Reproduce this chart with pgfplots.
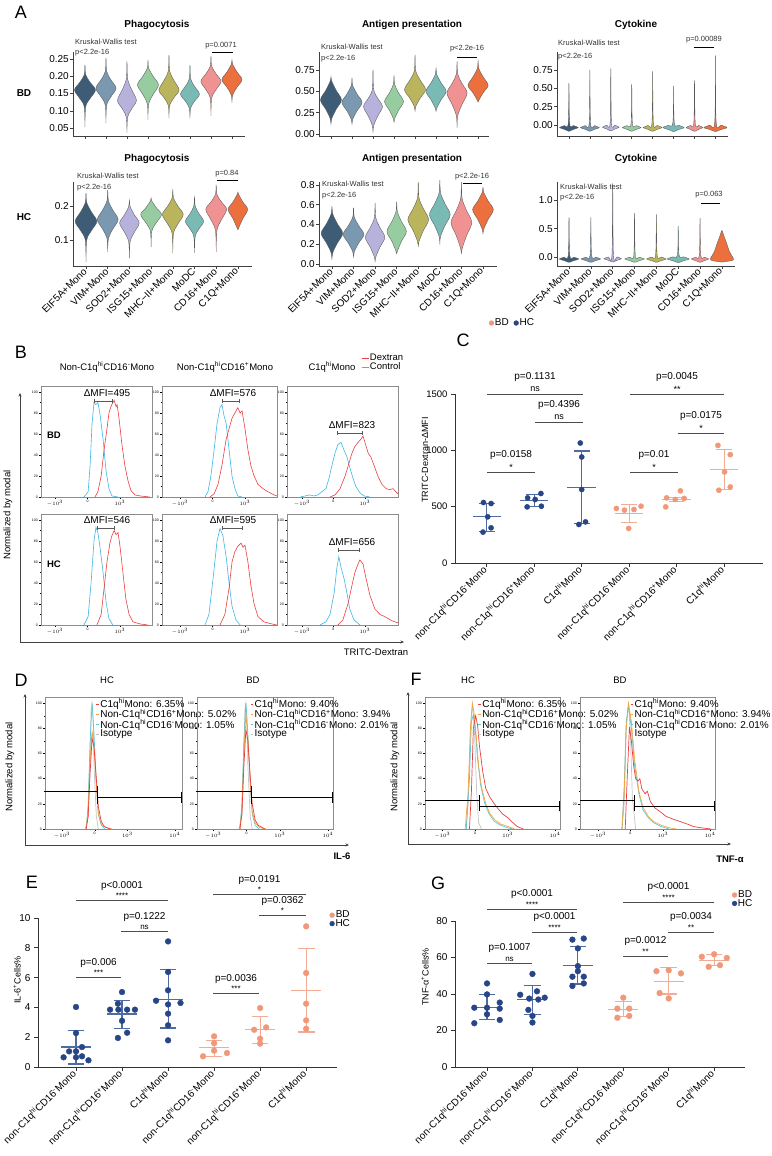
\documentclass[border=0pt]{standalone}
\usepackage{fontspec}
\setmainfont{Liberation Sans}
\usepackage{pgfplots}
\pgfplotsset{compat=1.18}
\usetikzlibrary{arrows.meta}

\newcommand\fs[1]{\fontsize{#1}{#1}\selectfont}

% violin colours
\definecolor{v1}{RGB}{62,92,118}
\definecolor{v2}{RGB}{122,152,176}
\definecolor{v3}{RGB}{182,178,220}
\definecolor{v4}{RGB}{150,204,160}
\definecolor{v5}{RGB}{186,180,92}
\definecolor{v6}{RGB}{122,186,180}
\definecolor{v7}{RGB}{241,146,146}
\definecolor{v8}{RGB}{236,112,62}
% dot plots
\definecolor{hc}{RGB}{40,70,135}
\definecolor{hcl}{RGB}{78,108,162}
\definecolor{bd}{RGB}{240,152,122}
\definecolor{bdl}{RGB}{243,172,148}
% flow
\definecolor{fred}{RGB}{235,62,62}
\definecolor{fblue}{RGB}{62,182,232}
\definecolor{forange}{RGB}{246,164,62}
\definecolor{fcyan}{RGB}{92,200,212}
\definecolor{fgray}{RGB}{196,196,196}

% violin: x, colour, low end, widest value, high end, half width, spread below, spread above
\newcommand\vio[8]{%
  \pgfmathsetmacro\vxa{#1-0.035}\pgfmathsetmacro\vxb{#1-0.5*#6}\pgfmathsetmacro\vxc{#1-#6}%
  \pgfmathsetmacro\vxd{#1+0.035}\pgfmathsetmacro\vxe{#1+0.5*#6}\pgfmathsetmacro\vxf{#1+#6}%
  \pgfmathsetmacro\vya{#4-2.2*#7}\pgfmathsetmacro\vyb{#4-1.1*#7}%
  \pgfmathsetmacro\vyc{#4+1.1*#8}\pgfmathsetmacro\vyd{#4+2.2*#8}%
  \addplot[fill=#2, draw=black!65, line width=0.35pt, smooth, tension=0.55, forget plot]
    coordinates {(#1,#3)(\vxa,\vya)(\vxb,\vyb)(\vxc,#4)(\vxb,\vyc)(\vxa,\vyd)(#1,#5)
                 (\vxd,\vyd)(\vxe,\vyc)(\vxf,#4)(\vxe,\vyb)(\vxd,\vya)(#1,#3)};%
}
% mean and SD: x, mean, low, high, colour, half width of mean line
\newcommand\msd[6]{%
  \pgfmathsetmacro\ma{#1-#6}\pgfmathsetmacro\mb{#1+#6}%
  \pgfmathsetmacro\ca{#1-0.55*#6}\pgfmathsetmacro\cb{#1+0.55*#6}%
  \addplot[#5, line width=1.1pt, forget plot] coordinates {(\ma,#2)(\mb,#2)};
  \addplot[#5, line width=1.1pt, forget plot] coordinates {(#1,#3)(#1,#4)};
  \addplot[#5, line width=1.1pt, forget plot] coordinates {(\ca,#3)(\cb,#3)};
  \addplot[#5, line width=1.1pt, forget plot] coordinates {(\ca,#4)(\cb,#4)};
}

\pgfplotsset{
  base/.style={scale only axis, clip=false, /pgf/number format/assume math mode=true},
  vio/.style={base, axis x line*=bottom, axis y line*=left,
    axis line style={-, black!75, line width=0.5pt},
    tick style={black!75, line width=0.5pt}, tick align=outside,
    major tick length=3pt, xtick={1,...,8}, xticklabels={},
    yticklabel style={font=\fs{10}, inner sep=1pt}},
  vlab/.style={xticklabels={EIF5A+Mono,VIM+Mono,SOD2+Mono,ISG15+Mono,MHC−II+Mono,MoDC,CD16+Mono,C1Q+Mono},
    xticklabel style={rotate=45, anchor=east, font=\fs{10}, inner sep=1pt}},
  flow/.style={base, axis line style={black!45, line width=0.4pt}, tick pos=left,
    tick align=outside, tick style={black, line width=0.3pt},
    major tick length=2pt, minor tick length=1.2pt, ymin=0,
    ytick={0,20,...,100}, minor ytick={10,30,...,90},
    yticklabel style={font=\fs{3.5}, inner sep=1pt},
    xticklabel style={font=\fs{3.5}, inner sep=1pt}},
  flowB/.style={flow, xtick={1,2,3}, xticklabels={$-10^3$,0,$10^3$},
    minor xtick={1.4,1.65,1.8,1.88,1.93,1.97,2.03,2.07,2.12,2.2,2.35,2.6,3.44,3.69,3.87}},
  flowD/.style={flow, xtick={1,2,3,4.45}, xticklabels={$-10^3$,0,$10^3$,$10^4$},
    minor xtick={1.4,1.65,1.8,1.88,1.93,1.97,2.03,2.07,2.12,2.2,2.35,2.6,3.44,3.69,3.87,4.01,4.13,4.23,4.31,4.38},
    legend style={draw=none, fill=none, font=\fs{10}, inner sep=0pt, row sep=-1.8pt,
      nodes={inner sep=1pt}},
    legend cell align=left,
    legend image code/.code={\draw[#1, line width=0.9pt] (0pt,0pt)--(2.5pt,0pt);}},
  dot/.style={base, axis x line*=bottom, axis y line*=left,
    axis line style={-, black!80, line width=0.8pt},
    tick style={black!80, line width=0.8pt}, tick align=outside, major tick length=4pt,
    xtick={1,...,6},
    xticklabels={non-C1q\textsuperscript{hi}CD16\textsuperscript{-}Mono,
      non-C1q\textsuperscript{hi}CD16\textsuperscript{+}Mono, C1q\textsuperscript{hi}Mono,
      non-C1q\textsuperscript{hi}CD16\textsuperscript{-}Mono,
      non-C1q\textsuperscript{hi}CD16\textsuperscript{+}Mono, C1q\textsuperscript{hi}Mono},
    xticklabel style={rotate=45, anchor=east, font=\fs{10}, inner sep=2pt},
    yticklabel style={font=\fs{10}},
    legend style={draw=none, fill=none, font=\fs{10}, inner sep=0pt, row sep=-2pt,
      nodes={inner sep=1pt}},
    legend image code/.code={\draw[mark repeat=1,#1] plot coordinates {(2pt,0pt)};}},
}

\begin{document}
\begin{tikzpicture}
\path[use as bounding box] (0pt,0pt) rectangle (771pt,-1156pt);

% ================= A, BD row
\begin{axis}[vio, at={(73pt,-136pt)}, anchor=south west, width=172pt, height=84pt,
  xmin=0.43, xmax=8.62, ymin=0.027, ymax=0.27,
  ytick={0.05,0.1,0.15,0.2,0.25}, yticklabels={0.05,0.10,0.15,0.20,0.25}]
\vio{1}{v1}{0.053}{0.160}{0.233}{0.50}{0.022}{0.020}
\vio{2}{v2}{0.064}{0.165}{0.253}{0.48}{0.022}{0.022}
\vio{3}{v3}{0.036}{0.130}{0.241}{0.45}{0.022}{0.028}
\vio{4}{v4}{0.073}{0.175}{0.245}{0.50}{0.025}{0.022}
\vio{5}{v5}{0.078}{0.160}{0.262}{0.48}{0.020}{0.025}
\vio{6}{v6}{0.078}{0.148}{0.233}{0.45}{0.018}{0.020}
\vio{7}{v7}{0.085}{0.185}{0.258}{0.48}{0.022}{0.020}
\vio{8}{v8}{0.122}{0.190}{0.247}{0.48}{0.020}{0.020}
\end{axis}

\begin{axis}[vio, at={(319pt,-136pt)}, anchor=south west, width=170pt, height=84pt,
  xmin=0.43, xmax=8.52, ymin=-0.023, ymax=0.96,
  ytick={0,0.25,0.5,0.75}, yticklabels={0.00,0.25,0.50,0.75}]
\vio{1}{v1}{0.105}{0.40}{0.67}{0.50}{0.10}{0.10}
\vio{2}{v2}{0.105}{0.37}{0.65}{0.48}{0.09}{0.09}
\vio{3}{v3}{0.010}{0.32}{0.75}{0.45}{0.10}{0.09}
\vio{4}{v4}{0.130}{0.38}{0.68}{0.45}{0.09}{0.09}
\vio{5}{v5}{0.260}{0.52}{0.93}{0.50}{0.09}{0.10}
\vio{6}{v6}{0.260}{0.50}{0.77}{0.48}{0.09}{0.09}
\vio{7}{v7}{0.070}{0.48}{0.85}{0.48}{0.12}{0.10}
\vio{8}{v8}{0.370}{0.57}{0.86}{0.48}{0.08}{0.09}
\end{axis}

\begin{axis}[vio, at={(557pt,-136pt)}, anchor=south west, width=171pt, height=84pt,
  xmin=0.43, xmax=8.6, ymin=-0.15, ymax=0.995,
  ytick={0,0.25,0.5,0.75}, yticklabels={0.00,0.25,0.50,0.75}]
\vio{1}{v1}{-0.085}{-0.035}{0.57}{0.45}{0.022}{0.024}
\vio{2}{v2}{-0.085}{-0.035}{0.75}{0.45}{0.022}{0.024}
\vio{3}{v3}{-0.080}{-0.030}{0.77}{0.40}{0.022}{0.024}
\vio{4}{v4}{-0.085}{-0.035}{0.56}{0.45}{0.022}{0.024}
\vio{5}{v5}{-0.085}{-0.035}{0.73}{0.45}{0.022}{0.026}
\vio{6}{v6}{-0.090}{-0.035}{0.53}{0.50}{0.024}{0.028}
\vio{7}{v7}{-0.085}{-0.035}{0.61}{0.40}{0.022}{0.026}
\vio{8}{v8}{-0.090}{-0.035}{0.95}{0.55}{0.024}{0.030}
\end{axis}

% ================= A, HC row
\begin{axis}[vio, vlab, at={(73pt,-266pt)}, anchor=south west, width=179pt, height=84pt,
  xmin=0.4, xmax=8.65, ymin=0.0235, ymax=0.2706,
  ytick={0.1,0.2}, yticklabels={0.1,0.2}]
\vio{1}{v1}{0.035}{0.155}{0.238}{0.50}{0.025}{0.025}
\vio{2}{v2}{0.065}{0.160}{0.247}{0.48}{0.025}{0.025}
\vio{3}{v3}{0.047}{0.150}{0.218}{0.45}{0.025}{0.022}
\vio{4}{v4}{0.080}{0.175}{0.224}{0.48}{0.022}{0.018}
\vio{5}{v5}{0.062}{0.175}{0.247}{0.48}{0.025}{0.022}
\vio{6}{v6}{0.062}{0.155}{0.226}{0.42}{0.020}{0.020}
\vio{7}{v7}{0.065}{0.190}{0.262}{0.48}{0.028}{0.020}
\vio{8}{v8}{0.130}{0.190}{0.241}{0.45}{0.025}{0.020}
\end{axis}

\begin{axis}[vio, vlab, at={(319pt,-266pt)}, anchor=south west, width=178pt, height=84pt,
  xmin=0.4, xmax=8.65, ymin=-0.02, ymax=0.83,
  ytick={0,0.2,0.4,0.6,0.8}, yticklabels={0.0,0.2,0.4,0.6,0.8}]
\vio{1}{v1}{0.04}{0.31}{0.58}{0.50}{0.09}{0.09}
\vio{2}{v2}{0.06}{0.30}{0.57}{0.48}{0.08}{0.08}
\vio{3}{v3}{0.02}{0.27}{0.62}{0.45}{0.09}{0.09}
\vio{4}{v4}{0.10}{0.33}{0.63}{0.45}{0.09}{0.09}
\vio{5}{v5}{0.17}{0.45}{0.83}{0.48}{0.10}{0.10}
\vio{6}{v6}{0.20}{0.50}{0.85}{0.48}{0.10}{0.10}
\vio{7}{v7}{0.10}{0.42}{0.83}{0.48}{0.12}{0.11}
\vio{8}{v8}{0.30}{0.55}{0.78}{0.48}{0.09}{0.08}
\end{axis}

\begin{axis}[vio, vlab, at={(557pt,-266pt)}, anchor=south west, width=178pt, height=84pt,
  xmin=0.45, xmax=8.6, ymin=-0.159, ymax=1.323,
  ytick={0,0.5,1}, yticklabels={0.0,0.5,1.0}]
\vio{1}{v1}{-0.090}{-0.035}{0.70}{0.45}{0.026}{0.028}
\vio{2}{v2}{-0.090}{-0.035}{0.70}{0.45}{0.026}{0.028}
\vio{3}{v3}{-0.085}{-0.030}{1.30}{0.40}{0.026}{0.028}
\vio{4}{v4}{-0.090}{-0.035}{0.78}{0.45}{0.026}{0.028}
\vio{5}{v5}{-0.090}{-0.035}{0.75}{0.45}{0.026}{0.030}
\vio{6}{v6}{-0.095}{-0.035}{0.55}{0.50}{0.028}{0.034}
\vio{7}{v7}{-0.090}{-0.035}{0.69}{0.40}{0.026}{0.028}
\addplot[fill=v8, draw=black!65, line width=0.35pt, smooth, tension=0.5, forget plot]
  coordinates {(8,-0.09)(7.52,-0.06)(7.48,-0.02)(7.56,0.03)(7.66,0.10)(7.73,0.18)
   (7.80,0.26)(7.88,0.34)(7.95,0.42)(8,0.47)(8.05,0.42)(8.12,0.34)(8.20,0.26)(8.27,0.18)
   (8.34,0.10)(8.44,0.03)(8.52,-0.02)(8.48,-0.06)(8,-0.09)};
\end{axis}

% ================= B
\begin{axis}[flowB, at={(41pt,-497pt)}, anchor=south west, width=111pt, height=111pt,
  xmin=0.569, xmax=3.985, ymax=105.7]
\addplot[fblue, line width=0.6pt] coordinates {(1.89,0)(2.02,5)(2.08,30)(2.14,70)(2.2,90)(2.26,88)(2.32,90)(2.38,80)(2.48,55)(2.57,25)(2.66,8)(2.75,1)(2.94,0)};
\addplot[fred, line width=0.6pt] coordinates {(2.23,0)(2.32,5)(2.42,20)(2.51,45)(2.6,65)(2.66,80)(2.72,86)(2.78,90)(2.82,92)(2.88,86)(2.91,88)(2.97,75)(3.06,50)(3.15,30)(3.25,15)(3.34,6)(3.46,2)(3.62,1)(3.92,0)};
\end{axis}
\begin{axis}[flowB, at={(162pt,-497pt)}, anchor=south west, width=115pt, height=111pt,
  xmin=0.446, xmax=3.985, ymax=105.7]
\addplot[fblue, line width=0.6pt] coordinates {(1.77,0)(1.86,5)(1.95,20)(2.05,45)(2.14,70)(2.23,85)(2.29,88)(2.35,78)(2.42,70)(2.51,45)(2.6,20)(2.69,8)(2.78,1)(2.9,0)};
\addplot[fred, line width=0.6pt] coordinates {(1.92,0)(2.05,3)(2.17,12)(2.29,30)(2.42,55)(2.51,65)(2.6,75)(2.69,80)(2.78,85)(2.85,80)(2.91,82)(3.0,65)(3.09,45)(3.18,30)(3.28,20)(3.4,12)(3.55,8)(3.71,5)(3.89,2)(3.98,1)};
\end{axis}
\begin{axis}[flowB, at={(287pt,-497pt)}, anchor=south west, width=111pt, height=111pt,
  xmin=0.524, xmax=4.05, ymax=105.7,
  legend style={draw=none, fill=none, font=\fs{9.5}, at={(0.667,1.30)}, anchor=north west,
    inner sep=0pt, row sep=-1pt, nodes={inner sep=1pt}},
  legend cell align=left,
  legend image code/.code={\draw[#1, line width=0.7pt] (0pt,0pt)--(7pt,0pt);}]
\addlegendimage{fred}\addlegendentry{Dextran}
\addlegendimage{fblue}\addlegendentry{Control}
\addplot[fblue, line width=0.6pt, forget plot] coordinates {(0.94,0)(1.1,1)(1.25,2)(1.38,1)(1.51,2)(1.63,5)(1.76,8)(1.86,18)(1.95,30)(2.05,42)(2.14,50)(2.24,52)(2.33,45)(2.43,38)(2.52,28)(2.62,18)(2.71,10)(2.84,4)(2.97,1)(3.16,0)};
\addplot[fred, line width=0.6pt, forget plot] coordinates {(1.89,0)(2.05,2)(2.21,8)(2.37,20)(2.49,32)(2.59,42)(2.68,48)(2.78,52)(2.87,55)(2.94,58)(3.0,52)(3.1,42)(3.19,38)(3.29,30)(3.41,20)(3.54,12)(3.67,8)(3.79,7)(3.89,8)(3.98,5)(4.05,3)};
\end{axis}

\begin{axis}[flowB, at={(41pt,-625pt)}, anchor=south west, width=111pt, height=111pt,
  xmin=0.569, xmax=3.985, ymax=105.7]
\addplot[fblue, line width=0.6pt] coordinates {(1.89,0)(2.02,8)(2.11,40)(2.2,80)(2.26,93)(2.32,88)(2.38,75)(2.48,50)(2.57,22)(2.66,6)(2.78,0)};
\addplot[fred, line width=0.6pt] coordinates {(2.29,0)(2.42,10)(2.51,35)(2.6,60)(2.69,78)(2.75,85)(2.82,90)(2.88,86)(2.94,88)(3.0,75)(3.09,50)(3.18,25)(3.28,10)(3.4,3)(3.62,1)(3.86,0)};
\end{axis}
\begin{axis}[flowB, at={(162pt,-625pt)}, anchor=south west, width=115pt, height=111pt,
  xmin=0.446, xmax=3.985, ymax=105.7]
\addplot[fblue, line width=0.6pt] coordinates {(1.77,0)(1.89,10)(2.02,45)(2.14,80)(2.23,92)(2.32,85)(2.42,65)(2.51,40)(2.6,18)(2.72,5)(2.85,0)};
\addplot[fred, line width=0.6pt] coordinates {(2.23,0)(2.38,10)(2.51,35)(2.6,60)(2.69,70)(2.78,75)(2.88,78)(2.94,74)(3.0,76)(3.09,60)(3.18,38)(3.28,20)(3.4,8)(3.58,3)(3.83,1)(3.98,0)};
\end{axis}
\begin{axis}[flowB, at={(287pt,-625pt)}, anchor=south west, width=111pt, height=111pt,
  xmin=0.524, xmax=4.05, ymax=105.7]
\addplot[fblue, line width=0.6pt] coordinates {(1.57,0)(1.76,3)(1.89,10)(2.02,30)(2.11,55)(2.17,65)(2.24,55)(2.33,45)(2.43,30)(2.52,15)(2.65,5)(2.84,0)};
\addplot[fred, line width=0.6pt] coordinates {(2.14,0)(2.3,5)(2.46,20)(2.59,38)(2.68,50)(2.78,58)(2.84,62)(2.94,58)(3.03,45)(3.16,28)(3.32,15)(3.48,10)(3.63,8)(3.86,4)(4.05,2)};
\end{axis}

% ================= C
\begin{axis}[dot, at={(455pt,-563pt)}, anchor=south west, width=308pt, height=169pt,
  xmin=0.33, xmax=6.82, ymin=0, ymax=1500,
  ytick={0,500,1000,1500}, yticklabels={0,500,1000,1500},
  yticklabel style={font=\fs{9.5}},
  legend columns=2, legend style={at={(0.11,1.42)}, anchor=west,
    /tikz/every even column/.append style={column sep=4pt}}]
\addlegendimage{only marks, mark=*, mark size=2.4pt, bd}\addlegendentry{BD}
\addlegendimage{only marks, mark=*, mark size=2.4pt, hc}\addlegendentry{HC}
\msd{1}{410}{283}{531}{hcl}{0.3}
\msd{2}{557}{504}{611}{hcl}{0.3}
\msd{3}{673}{351}{994}{hcl}{0.3}
\msd{4}{440}{357}{522}{bdl}{0.3}
\msd{5}{564}{545}{585}{bdl}{0.3}
\msd{6}{829}{652}{1006}{bdl}{0.3}
\addplot[only marks, mark=*, mark size=2.6pt, hc, forget plot] coordinates {
  (0.93,537)(1.09,528)(1.02,410)(1.09,312)(0.92,274)
  (1.86,578)(2.02,564)(2.14,617)(1.85,498)(2.15,504)
  (2.97,1065)(3.0,941)(3.0,652)(2.94,342)(3.08,365)};
\addplot[only marks, mark=*, mark size=2.6pt, bd, forget plot] coordinates {
  (3.73,484)(3.9,469)(4.1,475)(4.25,504)(3.99,307)
  (4.77,498)(4.97,564)(5.08,640)(5.16,573)(4.79,578)
  (5.87,1044)(6.13,962)(6.01,808)(6.13,675)(5.89,646)};
\end{axis}

% ================= D
\begin{axis}[flowD, at={(45pt,-829pt)}, anchor=south west, width=137pt, height=132pt,
  xmin=0.48, xmax=4.67, ymax=104.8,
  legend style={at={(0.37,0.995)}, anchor=north west}]
\addlegendimage{fred}\addlegendentry{C1q\textsuperscript{hi}Mono: 6.35\%}
\addlegendimage{forange}\addlegendentry{Non-C1q\textsuperscript{hi}CD16\textsuperscript{+}Mono: 5.02\%}
\addlegendimage{fcyan}\addlegendentry{Non-C1q\textsuperscript{hi}CD16\textsuperscript{-}Mono: 1.05\%}
\addlegendimage{fgray}\addlegendentry{Isotype}
\addplot[fgray, line width=0.7pt, forget plot] coordinates {(1.71,0)(1.8,10)(1.86,60)(1.89,95)(1.92,100)(1.95,90)(1.98,50)(2.05,10)(2.11,0)};
\addplot[fcyan, line width=0.7pt, forget plot] coordinates {(1.74,0)(1.8,20)(1.86,70)(1.92,100)(1.98,75)(2.05,35)(2.11,12)(2.2,3)(2.32,0)};
\addplot[forange, line width=0.7pt, forget plot] coordinates {(1.74,0)(1.8,15)(1.86,55)(1.92,78)(1.98,65)(2.05,35)(2.11,12)(2.2,4)(2.35,1)(2.55,0)};
\addplot[fred, line width=0.7pt, forget plot] coordinates {(1.74,0)(1.8,10)(1.86,45)(1.92,72)(1.98,65)(2.05,40)(2.11,18)(2.2,6)(2.29,2)(2.48,0)};
\addplot[black, line width=0.8pt, forget plot] coordinates {(0.48,30)(2.08,30)};
\addplot[black, line width=0.8pt, forget plot] coordinates {(2.08,20)(2.08,34)};
\addplot[black, line width=0.8pt, forget plot] coordinates {(2.08,25)(4.64,25)};
\addplot[black, line width=0.8pt, forget plot] coordinates {(4.64,21)(4.64,29)};
\end{axis}
\begin{axis}[flowD, at={(197pt,-829pt)}, anchor=south west, width=136pt, height=132pt,
  xmin=0.51, xmax=4.6, ymax=104.8,
  legend style={at={(0.39,0.995)}, anchor=north west}]
\addlegendimage{fred}\addlegendentry{C1q\textsuperscript{hi}Mono: 9.40\%}
\addlegendimage{forange}\addlegendentry{Non-C1q\textsuperscript{hi}CD16\textsuperscript{+}Mono: 3.94\%}
\addlegendimage{fcyan}\addlegendentry{Non-C1q\textsuperscript{hi}CD16\textsuperscript{-}Mono: 2.01\%}
\addlegendimage{fgray}\addlegendentry{Isotype}
\addplot[fgray, line width=0.7pt, forget plot] coordinates {(1.77,0)(1.86,10)(1.92,60)(1.95,95)(1.98,100)(2.01,90)(2.04,50)(2.11,10)(2.17,0)};
\addplot[fcyan, line width=0.7pt, forget plot] coordinates {(1.8,0)(1.86,20)(1.92,70)(1.98,100)(2.04,75)(2.11,35)(2.17,12)(2.26,3)(2.38,0)};
\addplot[forange, line width=0.7pt, forget plot] coordinates {(1.8,0)(1.86,15)(1.92,60)(1.98,92)(2.04,72)(2.11,38)(2.17,14)(2.26,5)(2.41,1)(2.6,0)};
\addplot[fred, line width=0.7pt, forget plot] coordinates {(1.8,0)(1.86,12)(1.92,50)(1.98,79)(2.04,70)(2.11,42)(2.17,20)(2.26,7)(2.35,3)(2.55,0)};
\addplot[black, line width=0.8pt, forget plot] coordinates {(0.51,30)(2.14,30)};
\addplot[black, line width=0.8pt, forget plot] coordinates {(2.14,20)(2.14,34)};
\addplot[black, line width=0.8pt, forget plot] coordinates {(2.14,25)(4.58,25)};
\addplot[black, line width=0.8pt, forget plot] coordinates {(4.58,21)(4.58,29)};
\end{axis}

% ================= F
\begin{axis}[flowD, at={(425pt,-829pt)}, anchor=south west, width=135pt, height=132pt,
  xmin=0.47, xmax=4.6, ymax=104.8,
  legend style={at={(0.39,0.995)}, anchor=north west}]
\addlegendimage{fred}\addlegendentry{C1q\textsuperscript{hi}Mono: 6.35\%}
\addlegendimage{forange}\addlegendentry{Non-C1q\textsuperscript{hi}CD16\textsuperscript{+}Mono: 5.02\%}
\addlegendimage{fcyan}\addlegendentry{Non-C1q\textsuperscript{hi}CD16\textsuperscript{-}Mono: 1.05\%}
\addlegendimage{fgray}\addlegendentry{Isotype}
\addplot[fgray, line width=0.7pt, forget plot] coordinates {(1.73,0)(1.79,20)(1.86,80)(1.92,100)(1.98,80)(2.05,30)(2.11,5)(2.2,0)};
\addplot[fcyan, line width=0.7pt, forget plot] coordinates {(1.73,0)(1.83,40)(1.89,85)(1.95,91)(2.02,75)(2.08,55)(2.17,35)(2.3,20)(2.43,12)(2.59,6)(2.78,3)(3.0,1)(3.16,0)};
\addplot[forange, line width=0.7pt, forget plot] coordinates {(1.7,0)(1.79,30)(1.86,80)(1.92,100)(1.98,90)(2.05,70)(2.11,50)(2.2,33)(2.33,20)(2.46,12)(2.62,7)(2.78,4)(3.0,2)(3.22,0)};
\addplot[fred, line width=0.7pt, forget plot] coordinates {(1.83,0)(1.89,30)(1.95,80)(2.02,90)(2.08,82)(2.14,65)(2.24,45)(2.33,32)(2.46,25)(2.59,20)(2.71,16)(2.84,12)(3.0,9)(3.16,5)(3.29,2)(3.48,0)};
\addplot[black, line width=0.8pt, forget plot] coordinates {(0.47,23)(2.14,23)};
\addplot[black, line width=0.8pt, forget plot] coordinates {(2.14,14)(2.14,27)};
\addplot[black, line width=0.8pt, forget plot] coordinates {(2.14,18)(4.58,18)};
\addplot[black, line width=0.8pt, forget plot] coordinates {(4.58,14)(4.58,22)};
\end{axis}
\begin{axis}[flowD, at={(580pt,-829pt)}, anchor=south west, width=135pt, height=132pt,
  xmin=0.45, xmax=4.6, ymax=104.8,
  legend style={at={(0.37,0.995)}, anchor=north west}]
\addlegendimage{fred}\addlegendentry{C1q\textsuperscript{hi}Mono: 9.40\%}
\addlegendimage{forange}\addlegendentry{Non-C1q\textsuperscript{hi}CD16\textsuperscript{+}Mono: 3.94\%}
\addlegendimage{fcyan}\addlegendentry{Non-C1q\textsuperscript{hi}CD16\textsuperscript{-}Mono: 2.01\%}
\addlegendimage{fgray}\addlegendentry{Isotype}
\addplot[fgray, line width=0.7pt, forget plot] coordinates {(1.74,0)(1.81,20)(1.87,80)(1.94,100)(2.0,75)(2.06,25)(2.16,0)};
\addplot[fcyan, line width=0.7pt, forget plot] coordinates {(1.74,0)(1.81,35)(1.87,85)(1.94,98)(2.03,80)(2.13,50)(2.26,28)(2.39,15)(2.55,9)(2.71,5)(2.94,2)(3.19,0)};
\addplot[forange, line width=0.7pt, forget plot] coordinates {(1.74,0)(1.81,30)(1.87,80)(1.94,100)(2.03,85)(2.13,55)(2.26,30)(2.39,17)(2.55,10)(2.71,6)(2.94,3)(3.19,1)(3.42,0)};
\addplot[fred, line width=0.7pt, forget plot] coordinates {(1.84,0)(1.9,40)(1.97,81)(2.03,70)(2.1,50)(2.16,40)(2.23,38)(2.29,40)(2.35,32)(2.45,28)(2.52,30)(2.61,22)(2.74,17)(2.9,14)(3.1,10)(3.29,8)(3.52,6)(3.74,4)(3.94,2)(4.16,1)(4.48,0)};
\addplot[black, line width=0.8pt, forget plot] coordinates {(0.45,23)(2.13,23)};
\addplot[black, line width=0.8pt, forget plot] coordinates {(2.13,14)(2.13,27)};
\addplot[black, line width=0.8pt, forget plot] coordinates {(2.13,18)(4.58,18)};
\addplot[black, line width=0.8pt, forget plot] coordinates {(4.58,14)(4.58,22)};
\end{axis}

% ================= E
\begin{axis}[dot, at={(38pt,-1067pt)}, anchor=south west, width=299pt, height=149pt,
  xmin=0.174, xmax=6.67, ymin=0, ymax=10,
  ytick={0,2,4,6,8,10}, yticklabels={0,2,4,6,8,10},
  legend style={at={(0.975,1.055)}, anchor=north west}]
\addlegendimage{only marks, mark=*, mark size=2.4pt, bd}\addlegendentry{BD}
\addlegendimage{only marks, mark=*, mark size=2.4pt, hc}\addlegendentry{HC}
\msd{1}{1.34}{0.2}{2.46}{hcl}{0.33}
\msd{2}{3.56}{2.57}{4.47}{hcl}{0.33}
\msd{3}{4.56}{2.62}{6.53}{hcl}{0.33}
\msd{4}{1.28}{0.72}{1.79}{bdl}{0.33}
\msd{5}{2.5}{1.57}{3.4}{bdl}{0.33}
\msd{6}{5.12}{2.35}{7.94}{bdl}{0.33}
\addplot[only marks, mark=*, mark size=2.9pt, hc, forget plot] coordinates {
  (1.0,4.03)(1.0,2.28)(0.85,1.05)(1.0,1.05)(1.13,1.34)(0.73,0.65)(1.0,0.65)(1.13,0.72)(1.27,0.45)
  (2.0,5.03)(1.74,3.85)(1.91,4.25)(1.92,3.85)(2.11,3.85)(2.28,3.85)(2.0,3.1)(2.11,2.3)(1.91,1.95)
  (3.0,8.43)(3.0,6.38)(3.0,5.15)(2.74,4.45)(3.27,4.3)(3.0,4.2)(3.0,3.58)(3.0,2.8)(3.0,1.79)};
\addplot[only marks, mark=*, mark size=2.9pt, bd, forget plot] coordinates {
  (3.76,0.72)(4.0,2.06)(4.0,1.6)(4.0,1.1)(4.28,0.94)
  (5.0,3.96)(4.87,2.5)(5.13,2.66)(5.0,1.9)(5.0,1.57)
  (6.0,9.44)(6.0,6.31)(6.0,4.25)(6.0,3.13)(6.0,2.57)};
\end{axis}

% ================= G
\begin{axis}[dot, at={(455pt,-1067pt)}, anchor=south west, width=290pt, height=146pt,
  xmin=0.295, xmax=6.68, ymin=0, ymax=80,
  ytick={0,20,40,60,80}, yticklabels={0,20,40,60,80},
  legend style={at={(0.955,1.215)}, anchor=north west}]
\addlegendimage{only marks, mark=*, mark size=2.4pt, bd}\addlegendentry{BD}
\addlegendimage{only marks, mark=*, mark size=2.4pt, hc}\addlegendentry{HC}
\msd{1}{32.5}{25.8}{39.8}{hcl}{0.33}
\msd{2}{37}{29}{44.5}{hcl}{0.33}
\msd{3}{55.8}{45.5}{65.8}{hcl}{0.33}
\msd{4}{31.3}{27.6}{35.8}{bdl}{0.33}
\msd{5}{47}{40}{54.4}{bdl}{0.33}
\msd{6}{58.5}{55.8}{61.8}{bdl}{0.33}
\addplot[only marks, mark=*, mark size=2.9pt, hc, forget plot] coordinates {
  (1.0,45.8)(1.0,39.8)(0.72,32.5)(1.0,32.5)(1.28,35.3)(1.28,32)(1.0,28.9)(1.28,25.8)(0.72,24)
  (2.0,51)(2.1,41.5)(1.73,39.6)(2.27,38)(1.93,37.5)(2.13,37)(1.91,31.3)(2.0,28)(2.0,24.4)
  (2.88,69.8)(3.13,70.4)(3.0,65)(3.0,55.3)(2.88,49.5)(3.13,49.5)(2.88,44.4)(3.13,45.8)(3.0,52.5)};
\addplot[only marks, mark=*, mark size=2.9pt, bd, forget plot] coordinates {
  (4.0,38)(3.87,32)(4.13,32)(3.87,27)(4.13,28)
  (5.0,53)(4.73,52.5)(5.27,51.3)(5.0,37.6)(4.8,40.5)
  (5.73,60.4)(6.0,61.8)(6.28,59.8)(5.88,54.9)(6.13,55.8)};
\end{axis}

% ================= text and annotation lines (px, y down)
\begin{scope}[x=1pt, y=-1pt]
% --- A
\node[font=\fs{18}] at (21,12) {A};
\foreach \x/\t in {157/Phagocytosis, 412/Antigen presentation, 636/Cytokine}{
  \node[font=\bfseries\fs{10}] at (\x,25) {\t};
  \node[font=\bfseries\fs{10}] at (\x,159) {\t};}
\node[font=\bfseries\fs{10}] at (24,93) {BD};
\node[font=\bfseries\fs{10}] at (24,217) {HC};
\foreach \x/\ya/\yb in {75/42/53, 321/47/59, 558/43/57, 77/176/188, 322/184/196, 560/187/198}{
  \node[font=\fs{7.5}, anchor=west, text=black!80, inner sep=0pt] at (\x,\ya) {Kruskal-Wallis test};
  \node[font=\fs{7.5}, anchor=west, text=black!80, inner sep=0pt] at (\x,\yb) {p<2.2e-16};}
\foreach \x/\y/\a/\b/\yl/\t in {221/46/212/233/52/p=0.0071, 467/49/457/477/57/p<2.2e-16,
   704/40/694/714/47/p=0.00089, 227/174/217/238/180/p=0.84, 472/177/463/482/183/p<2.2e-16,
   709/195/701/720/203/p=0.063}{
  \node[font=\fs{7.5}, text=black!80] at (\x,\y) {\t};
  \draw[black, line width=0.6pt] (\a,\yl)--(\b,\yl);}
% --- B
\node[font=\fs{18}] at (21,352) {B};
\node[font=\fs{9.5}] at (107,367) {Non-C1q\textsuperscript{hi}CD16\textsuperscript{-}Mono};
\node[font=\fs{9.5}] at (225,367) {Non-C1q\textsuperscript{hi}CD16\textsuperscript{+}Mono};
\node[font=\fs{9.5}] at (332,367) {C1q\textsuperscript{hi}Mono};
\node[font=\fs{9.5}, rotate=90] at (8,515) {Normalized by modal};
\node[font=\fs{9.5}] at (376,652) {TRITC-Dextran};
\draw[black!75, line width=0.6pt, -{Stealth[length=3.5pt, width=3pt]}] (20,642)--(20,393);
\draw[black!75, line width=0.6pt, -{Stealth[length=3.5pt, width=3pt]}] (20,642)--(404,642);
\node[font=\bfseries\fs{9.5}] at (54,435) {BD};
\node[font=\bfseries\fs{9.5}] at (54,564) {HC};
\foreach \x/\y/\a/\b/\yl/\t in {107/393/94/113/401/495, 233/393/222/240/401/576,
   352/425/337/363/433/823, 107/520/97/115/528/546, 233/520/222/243/528/595,
   352/542/338/360/550/656}{
  \node[font=\fs{10}] at (\x,\y) {ΔMFI=\t};
  \draw[black!65, line width=0.6pt, {Bar[width=3.5pt]}-{Bar[width=3.5pt]}] (\a,\yl)--(\b,\yl);}
% --- C
\node[font=\fs{18}] at (463,340) {C};
\node[font=\fs{9}, rotate=90] at (425,460) {TRITC-Dextran-ΔMFI};
\foreach \a/\b/\y/\t/\s in {487/583/394/p=0.1131/ns, 535/583/422/p=0.4396/ns,
   487/535/472/p=0.0158/*, 630/724/394/p=0.0045/**, 678/724/433/p=0.0175/*,
   630/678/472/p=0.01/*}{
  \draw[black!70, line width=0.8pt] (\a,\y)--(\b,\y);
  \node[font=\fs{10}] at ({(\a+\b)/2},\y-17) {\t};
  \node[font=\fs{9}] at ({(\a+\b)/2},\y-5) {\s};}
% --- D
\node[font=\fs{18}] at (21,680) {D};
\node[font=\fs{9.5}] at (107,680) {HC};
\node[font=\fs{9.5}] at (253,680) {BD};
\node[font=\fs{9.5}, rotate=90] at (10,767) {Normalized by modal};
\node[font=\bfseries\fs{9.5}] at (342,856) {IL-6};
\draw[black!75, line width=0.6pt, -{Stealth[length=3.5pt, width=3pt]}] (25,845)--(25,694);
\draw[black!75, line width=0.6pt, -{Stealth[length=3.5pt, width=3pt]}] (25,845)--(349,845);
% --- F
\node[font=\fs{18}] at (416,679) {F};
\node[font=\fs{9.5}] at (468,680) {HC};
\node[font=\fs{9.5}] at (620,680) {BD};
\node[font=\fs{9.5}, rotate=90] at (395,767) {Normalized by modal};
\node[font=\bfseries\fs{9.5}] at (730,859) {TNF-α};
\draw[black!75, line width=0.6pt, -{Stealth[length=3.5pt, width=3pt]}] (408,844)--(408,692);
\draw[black!75, line width=0.6pt, -{Stealth[length=3.5pt, width=3pt]}] (408,844)--(731,844);
% --- E
\node[font=\fs{18}] at (32,882) {E};
\node[font=\fs{9}, rotate=90] at (17,980) {IL-6\textsuperscript{+}Cells\%};
\foreach \a/\b/\y/\t/\s in {76/168/900/p<0.0001/****, 121/168/931/p=0.1222/ns,
   76/121/977/p=0.006/***, 213/306/894/p=0.0191/*, 259/306/915/p=0.0362/*,
   213/259/993/p=0.0036/***}{
  \draw[black!70, line width=0.8pt] (\a,\y)--(\b,\y);
  \node[font=\fs{10}] at ({(\a+\b)/2},\y-14) {\t};
  \node[font=\fs{8}] at ({(\a+\b)/2},\y-4) {\s};}
% --- G
\node[font=\fs{18}] at (438,883) {G};
\node[font=\fs{9}, rotate=90] at (425,977) {TNF-α\textsuperscript{+}Cells\%};
\foreach \a/\b/\y/\t/\s in {487/577/909/p<0.0001/****, 532/577/932/p<0.0001/****,
   487/532/963/p=0.1007/ns, 623/714/902/p<0.0001/****, 668/714/932/p=0.0034/**,
   623/668/956/p=0.0012/**}{
  \draw[black!70, line width=0.8pt] (\a,\y)--(\b,\y);
  \node[font=\fs{10}] at ({(\a+\b)/2},\y-15) {\t};
  \node[font=\fs{8}] at ({(\a+\b)/2},\y-4) {\s};}
\end{scope}
\end{tikzpicture}
\end{document}
